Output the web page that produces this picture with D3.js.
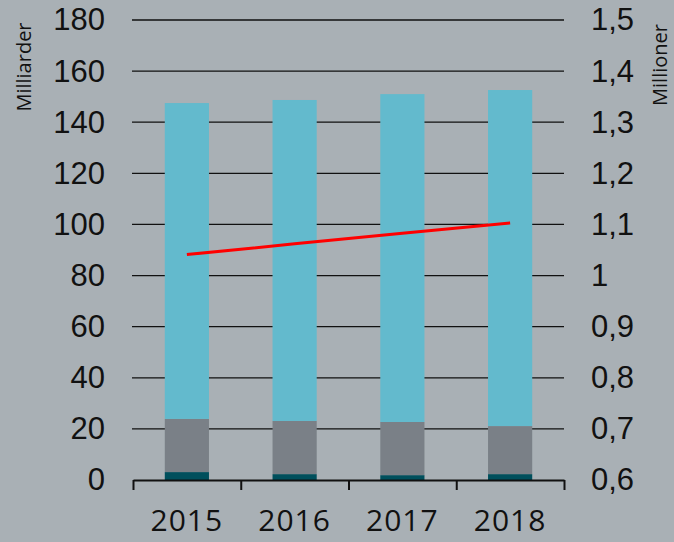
<!DOCTYPE html>
<html lang="no">
<head>
<meta charset="utf-8" />
<title>Milliarder / Millioner</title>
<script src="https://cdn.jsdelivr.net/npm/d3@7"></script>
<style>
  html, body { margin: 0; padding: 0; background: #a9b0b5; }
  svg { display: block; font-family: "Open Sans", "DejaVu Sans", sans-serif; }
</style>
</head>
<body>
<script>
  // data
  var years = ["2015", "2016", "2017", "2018"];
  var darkPart = [3.1, 2.3, 1.9, 2.3];
  var greyPart = [20.8, 20.8, 20.8, 18.8];
  var bluePart = [123.6, 125.6, 128.3, 131.5];
  var redLine = [1.041, 1.062, 1.083, 1.103];
  var leftTicks = [0, 20, 40, 60, 80, 100, 120, 140, 160, 180];
  var rightTicks = [0.6, 0.7, 0.8, 0.9, 1.0, 1.1, 1.2, 1.3, 1.4, 1.5];

  const width = 674, height = 542;
  const margin = {left: 133, right: 110, top: 20, bottom: 62};
  let w = width - margin.left - margin.right;
  let h = height - margin.top - margin.bottom;

  var svg = d3.select("body").append("svg")
      .attr("width", width)
      .attr("height", height);

  svg.append("rect").attr("width", width).attr("height", height).attr("fill", "#a9b0b5");

  let plot = svg.append("g")
      .attr("transform", `translate(${margin.left}, ${margin.top})`);

  let x = d3.scaleBand(years, [0, w]).paddingInner(0.59).paddingOuter(0.295);
  let xTicks = d3.scaleLinear([0, years.length], [0, w]);
  let yLeft = d3.scaleLinear([0, 180], [h, 0]);
  let yRight = d3.scaleLinear([0.6, 1.5], [h, 0]);

  // gridlines
  plot.append("g")
      .selectAll("line")
      .data(leftTicks.slice(1))
      .join("line")
      .attr("x1", -1).attr("x2", w)
      .attr("y1", d => yLeft(d)).attr("y2", d => yLeft(d))
      .style("stroke", "#111").style("stroke-width", 1.3);

  // stacked bars
  let rows = years.map((y, i) => ({year: y, dark: darkPart[i], grey: greyPart[i], blue: bluePart[i]}));
  let stack = d3.stack().keys(["dark", "grey", "blue"])(rows);
  let colors = {dark: "#004f5c", grey: "#7a8087", blue: "#63bacd"};

  plot.append("g")
      .selectAll("g")
      .data(stack)
      .join("g")
      .attr("fill", s => colors[s.key])
      .selectAll("rect")
      .data(s => s)
      .join("rect")
      .attr("x", d => x(d.data.year))
      .attr("width", x.bandwidth())
      .attr("y", d => yLeft(d[1]))
      .attr("height", d => yLeft(d[0]) - yLeft(d[1]));

  // red line on right axis
  let line = d3.line()
      .x((d, i) => x(years[i]) + x.bandwidth() / 2)
      .y(d => yRight(d));
  plot.append("path")
      .datum(redLine)
      .attr("d", line)
      .attr("fill", "none")
      .style("stroke", "#ff0000")
      .style("stroke-width", 3);

  // bottom axis with ticks between categories
  let xAxisG = plot.append("g")
      .attr("transform", `translate(0, ${h})`)
      .call(d3.axisBottom(xTicks).tickValues(d3.range(years.length + 1)).tickSize(10).tickSizeOuter(0).tickFormat(""));
  xAxisG.selectAll("path, line").style("stroke", "#111").style("stroke-width", 2);

  plot.append("g")
      .selectAll("text")
      .data(years)
      .join("text")
      .attr("x", d => x(d) + x.bandwidth() / 2)
      .attr("y", h + 51)
      .attr("text-anchor", "middle")
      .attr("font-size", 30)
      .attr("letter-spacing", 1)
      .attr("fill", "#111")
      .text(d => d);

  // left axis
  let yLeftG = plot.append("g")
      .call(d3.axisLeft(yLeft).tickValues(leftTicks).tickSize(0).tickPadding(28));
  yLeftG.select(".domain").remove();
  yLeftG.selectAll("text").attr("font-size", 31).attr("fill", "#111").attr("font-family", null);

  // right axis
  let yRightG = plot.append("g")
      .attr("transform", `translate(${w}, 0)`)
      .call(d3.axisRight(yRight).tickValues(rightTicks).tickSize(0).tickPadding(27)
        .tickFormat(d => d3.format(".1f")(d).replace(".", ",").replace(",0", "")));
  yRightG.select(".domain").remove();
  yRightG.selectAll("text").attr("font-size", 31).attr("fill", "#111").attr("font-family", null);

  // axis titles
  svg.append("text")
      .attr("transform", "translate(31, 67) rotate(-90)")
      .attr("text-anchor", "middle")
      .attr("font-size", 20)
      .attr("fill", "#111")
      .text("Milliarder");

  svg.append("text")
      .attr("transform", "translate(667, 65) rotate(-90)")
      .attr("text-anchor", "middle")
      .attr("font-size", 20)
      .attr("fill", "#111")
      .text("Millioner");
</script>
</body>
</html>
